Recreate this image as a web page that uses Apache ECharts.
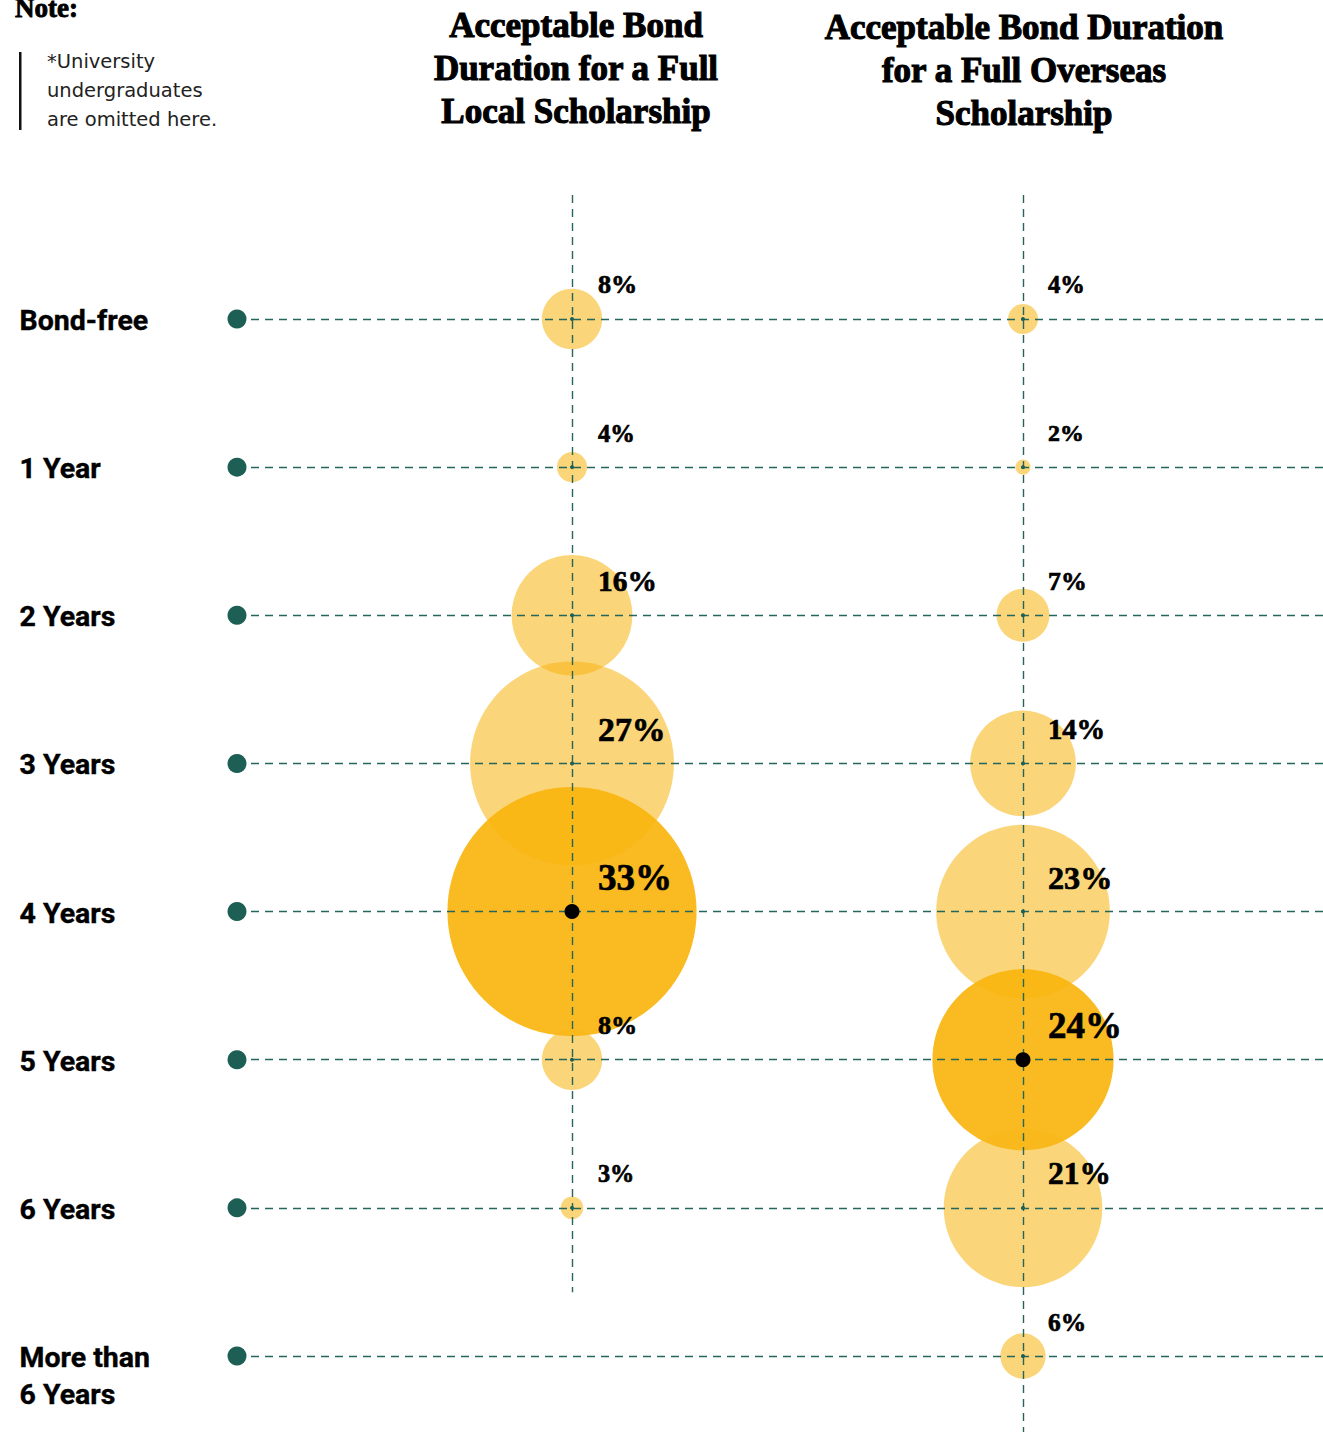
<!DOCTYPE html>
<html><head><meta charset="utf-8">
<script src="https://cdn.jsdelivr.net/npm/echarts@6/dist/echarts.min.js"></script>
<style>html,body{margin:0;padding:0;background:#fff}#c{width:1323px;height:1432px}</style>
</head><body><div id="c"></div>
<script>
const categories = ['Bond-free','1 Year','2 Years','3 Years','4 Years','5 Years','6 Years','More than\n6 Years'];
const localValues = [8, 4, 16, 27, 33, 8, 3, null];
const overseasValues = [4, 2, 7, 14, 23, 24, 21, 6];
const columnTitles = ['Acceptable Bond\nDuration for a Full\nLocal Scholarship', 'Acceptable Bond Duration\nfor a Full Overseas\nScholarship'];
const noteTitle = 'Note:';
const noteText = '*University\nundergraduates\nare omitted here.';

const GREEN = '#1d5f55';
const X_MIN = -0.7428, X_MAX = 1.6652, Y_MIN = -0.837, Y_MAX = 7.513;

function bubbleData(vals, col) {
  const mx = Math.max(...vals.filter(v => v != null));
  return vals.map((v, i) => v == null ? null : {
    value: [col, i, v],
    symbolSize: v * 7.55,
    itemStyle: { color: v === mx ? 'rgba(248,181,14,0.92)' : 'rgba(248,183,24,0.58)', opacity: 1 },
    label: { fontSize: v === mx ? 37 : 23 + v * 0.4 }
  }).filter(d => d);
}
function centerDots(vals, col, wantMax) {
  const mx = Math.max(...vals.filter(v => v != null));
  return vals.map((v, i) => (v != null && ((v === mx) === wantMax)) ? [col, i] : null).filter(d => d);
}
const lastLocal = localValues.reduce((a, v, i) => v != null ? i : a, 0);

const pctLabel = {
  show: true, position: 'inside', align: 'left', verticalAlign: 'middle',
  color: '#000', fontFamily: '"Liberation Serif"', fontWeight: 700,
  textBorderColor: '#000', textBorderWidth: 0.7,
  formatter: p => p.value[2] + '%'
};
const titleFont = '700 35px "Liberation Serif"';

const chart = echarts.init(document.getElementById('c'), null, { renderer: 'svg' });
chart.setOption({
  animation: false,
  backgroundColor: '#fff',
  grid: { left: 237, right: 0, top: 195, bottom: 0 },
  xAxis: { type: 'value', min: X_MIN, max: X_MAX, show: false },
  yAxis: { type: 'value', min: Y_MIN, max: Y_MAX, inverse: true, show: false },
  graphic: [
    { type: 'text', style: { text: columnTitles[0], x: 576, y: 68, font: titleFont, lineHeight: 43, align: 'center', verticalAlign: 'middle', fill: '#000', stroke: '#000', lineWidth: 1.1 } },
    { type: 'text', style: { text: columnTitles[1], x: 1024, y: 70, font: titleFont, lineHeight: 43, align: 'center', verticalAlign: 'middle', fill: '#000', stroke: '#000', lineWidth: 1.1 } },
    { type: 'text', style: { text: noteTitle, x: 15, y: 8, font: '700 27px "Liberation Serif"', align: 'left', verticalAlign: 'middle', fill: '#000', stroke: '#000', lineWidth: 0.9 } },
    { type: 'rect', shape: { x: 19, y: 52, width: 2.5, height: 78 }, style: { fill: '#111' } },
    { type: 'text', style: { text: noteText, x: 47, y: 90, font: '400 19.5px "DejaVu Sans"', lineHeight: 29, align: 'left', verticalAlign: 'middle', fill: '#222' } }
  ],
  series: [
    {
      type: 'scatter', name: 'local', z: 2, clip: false,
      data: bubbleData(localValues, 0),
      label: Object.assign({ offset: [26, -34] }, pctLabel)
    },
    {
      type: 'scatter', name: 'overseas', z: 2, clip: false,
      data: bubbleData(overseasValues, 1),
      label: Object.assign({ offset: [25, -34] }, pctLabel)
    },
    {
      type: 'scatter', name: 'rows', z: 5, clip: false, symbolSize: 19,
      itemStyle: { color: GREEN, opacity: 1 },
      data: categories.map((c, i) => ({ value: [X_MIN, i], name: c })),
      label: { show: true, position: [-208, -7.5], align: 'left', verticalAlign: 'top', fontFamily: 'Roboto', fontWeight: 700, fontSize: 28.5, lineHeight: 37, color: '#000', textBorderColor: '#000', textBorderWidth: 0.4, formatter: p => p.name },
      markLine: {
        silent: true, symbol: 'none', z: 4,
        label: { show: false },
        lineStyle: { type: [8, 6], color: '#24665b', width: 1.4, opacity: 1 },
        data: categories.map((c, i) => ({ yAxis: i })).concat([
          [{ coord: [0, Y_MIN] }, { coord: [0, lastLocal + 0.57] }],
          { xAxis: 1 }
        ])
      }
    },
    {
      type: 'scatter', name: 'centers', z: 6, clip: false, symbolSize: 4,
      itemStyle: { color: GREEN, opacity: 1 },
      data: centerDots(localValues, 0, false).concat(centerDots(overseasValues, 1, false))
    },
    {
      type: 'scatter', name: 'maxdots', z: 6, clip: false, symbolSize: 15,
      itemStyle: { color: '#000', opacity: 1 },
      data: centerDots(localValues, 0, true).concat(centerDots(overseasValues, 1, true))
    }
  ]
});
</script></body></html>
